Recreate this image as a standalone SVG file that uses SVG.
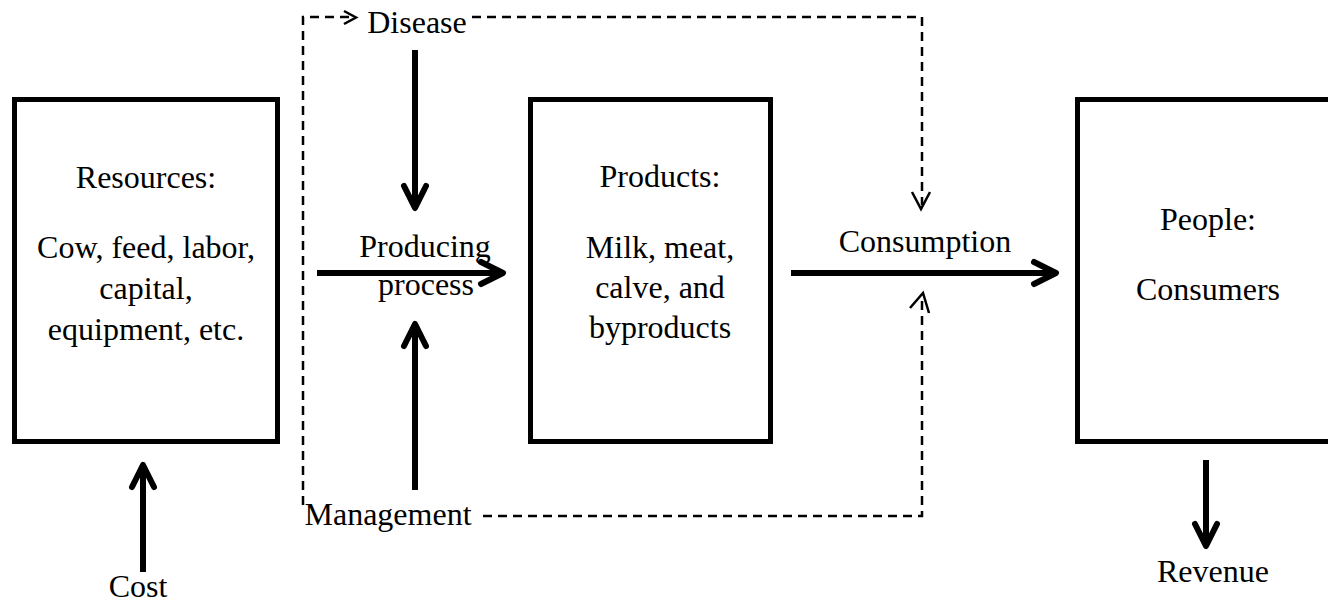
<svg xmlns="http://www.w3.org/2000/svg" width="1328" height="605" viewBox="0 0 1328 605">
<style>
.box{fill:#fff;stroke:#000;stroke-width:5}
.t{font-family:"Liberation Serif","Times New Roman",serif;font-size:32px;fill:#000;text-anchor:middle}
.thick{fill:none;stroke:#000;stroke-width:6}
.dash{fill:none;stroke:#000;stroke-width:2.5;stroke-dasharray:9 6}
.thin{fill:none;stroke:#000;stroke-width:2.5;stroke-linejoin:miter}
</style>
<defs>
<marker id="ah" markerUnits="userSpaceOnUse" viewBox="-30 -16 36 32" refX="0" refY="0" markerWidth="36" markerHeight="32" orient="auto" overflow="visible">
<path d="M-22,-11 L0,0 L-22,11" fill="none" stroke="#000" stroke-width="6" stroke-linecap="round" stroke-linejoin="round"/>
</marker>
</defs>
<rect width="1328" height="605" fill="#fff"/>
<g id="resources">
<rect class="box" x="14.5" y="99.5" width="263" height="342"/>
<text class="t" x="146" y="188">Resources:</text>
<text class="t" x="146" y="258">Cow, feed, labor,</text>
<text class="t" x="146" y="299">capital,</text>
<text class="t" x="146" y="340">equipment, etc.</text>
</g>
<g id="products">
<rect class="box" x="530.5" y="99.5" width="240" height="342"/>
<text class="t" x="660" y="187">Products:</text>
<text class="t" x="660" y="258">Milk, meat,</text>
<text class="t" x="660" y="298">calve, and</text>
<text class="t" x="660" y="338">byproducts</text>
</g>
<g id="people">
<rect class="box" x="1077.5" y="99.5" width="260" height="342"/>
<text class="t" x="1208" y="230">People:</text>
<text class="t" x="1208" y="300">Consumers</text>
</g>
<g id="disease"><text class="t" x="417" y="33">Disease</text></g>
<g id="management"><text class="t" x="388" y="525">Management</text></g>
<g id="producing"><text class="t" x="425" y="257">Producing</text><text class="t" x="426" y="295">process</text></g>
<g id="consumption"><text class="t" x="925" y="252">Consumption</text></g>
<g id="cost"><text class="t" x="138" y="597">Cost</text></g>
<g id="revenue"><text class="t" x="1213" y="582">Revenue</text></g>
<g id="connectors">
<line class="thick" x1="317" y1="273" x2="503" y2="273" marker-end="url(#ah)"/>
<line class="thick" x1="415" y1="50" x2="415" y2="208" marker-end="url(#ah)"/>
<line class="thick" x1="415" y1="490" x2="415" y2="324" marker-end="url(#ah)"/>
<line class="thick" x1="791" y1="273" x2="1056" y2="273" marker-end="url(#ah)"/>
<line class="thick" x1="143" y1="572" x2="143" y2="465" marker-end="url(#ah)"/>
<line class="thick" x1="1206" y1="460" x2="1206" y2="546" marker-end="url(#ah)"/>
<path class="dash" d="M303,505 L303,17 L352,17"/>
<path class="thin" d="M344,11 L356,17.5 L344,24"/>
<path class="dash" d="M472,17 L922,17 L922,205"/>
<path class="thin" d="M912,192 L921,209 L930,192"/>
<path class="dash" d="M483,516 L922,516 L922,300"/>
<path class="thin" d="M910,308 L923,293 L929,313"/>
</g>
</svg>
